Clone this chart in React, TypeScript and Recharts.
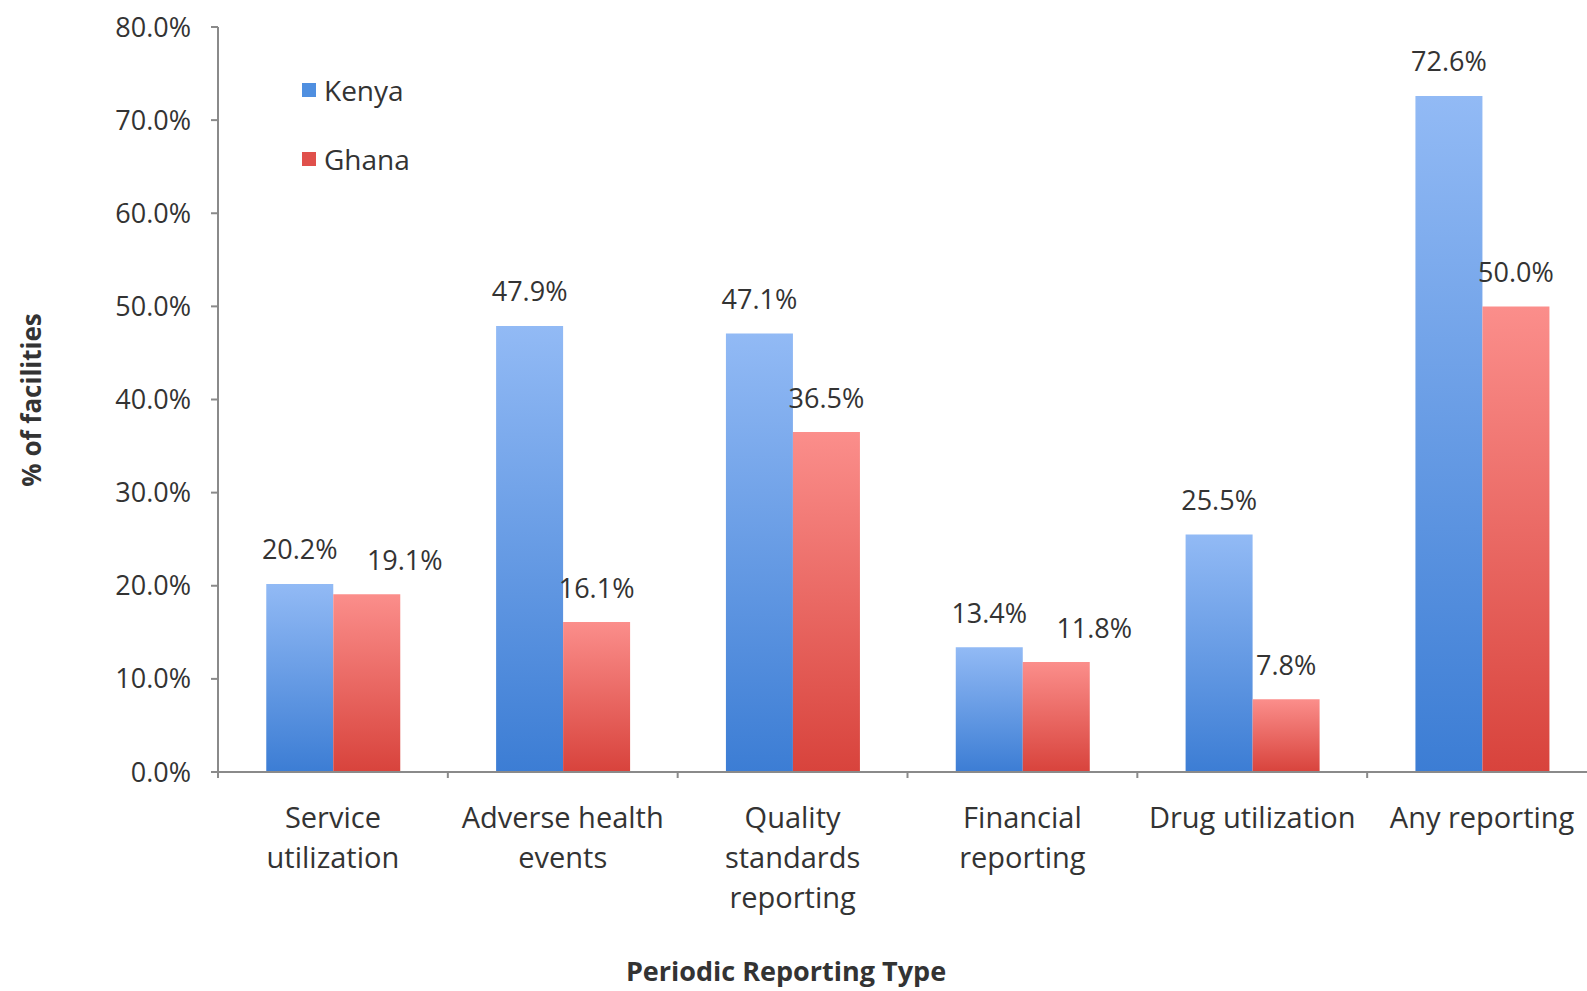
import React from "react";
import { BarChart, Bar, XAxis, YAxis, LabelList } from "recharts";

const categories = [
  "Service\nutilization",
  "Adverse health\nevents",
  "Quality\nstandards\nreporting",
  "Financial\nreporting",
  "Drug utilization",
  "Any reporting",
];
const kenya = [20.2, 47.9, 47.1, 13.4, 25.5, 72.6];
const ghana = [19.1, 16.1, 36.5, 11.8, 7.8, 50.0];
const yTicks = [0, 10, 20, 30, 40, 50, 60, 70, 80];

const data = categories.map((name, i) => ({ name, Kenya: kenya[i], Ghana: ghana[i] }));

const FONT = "'Open Sans', sans-serif";
const TEXT = "#333";
const AXIS = "#8a8a8a";
const PLOT_WIDTH = 1379;

function CategoryTick(props: any) {
  const { x, y, payload, index } = props;
  const band = payload?.offset ? payload.offset * 2 : PLOT_WIDTH / categories.length;
  const lines = String(payload.value).split("\n");
  return (
    <g>
      <line x1={x - band / 2} x2={x - band / 2} y1={y} y2={y + 6} stroke={AXIS} strokeWidth={2} />
      {index === categories.length - 1 && (
        <line x1={x + band / 2} x2={x + band / 2} y1={y} y2={y + 6} stroke={AXIS} strokeWidth={2} />
      )}
      <text x={x} y={y + 46} textAnchor="middle" fontFamily={FONT} fontSize={29} fill={TEXT}>
        {lines.map((l, i) => (
          <tspan key={i} x={x} dy={i === 0 ? "0.35em" : 40}>
            {l}
          </tspan>
        ))}
      </text>
    </g>
  );
}

function valueLabel(series: "Kenya" | "Ghana") {
  return (props: any) => {
    const { x, y, width, value, index } = props;
    let dx = 0;
    // nudge the Ghana label right when it would collide with Kenya's
    if (series === "Ghana" && Math.abs(kenya[index] - ghana[index]) < 4) dx = 38;
    return (
      <text
        x={x + width / 2 + dx}
        y={y - 34}
        dy="0.35em"
        textAnchor="middle"
        fontFamily={FONT}
        fontSize={27}
        fill={TEXT}
      >
        {Number(value).toFixed(1)}%
      </text>
    );
  };
}

function LegendBox() {
  const items = [
    { name: "Kenya", color: "#4f8fe0" },
    { name: "Ghana", color: "#e0504b" },
  ];
  return (
    <div style={{ position: "absolute", left: 302, top: 55, fontFamily: FONT, fontSize: 28, color: TEXT }}>
      {items.map((it) => (
        <div key={it.name} style={{ display: "flex", alignItems: "center", height: 69 }}>
          <span style={{ width: 14, height: 14, background: it.color, marginRight: 8 }} />
          {it.name}
        </div>
      ))}
    </div>
  );
}

export default function App() {
  return (
    <div style={{ position: "fixed", left: 0, top: 0, width: 1587, height: 991, overflow: "hidden", background: "#fff" }}>
      <BarChart
        width={1610}
        height={991}
        data={data}
        margin={{ top: 27, right: 13, left: 0, bottom: 0 }}
        barCategoryGap="21%"
        barGap={0}
      >
        <defs>
          <linearGradient id="kenyaFill" x1="0" y1="0" x2="0" y2="1">
            <stop offset="0%" stopColor="#92baf5" />
            <stop offset="100%" stopColor="#3c7dd4" />
          </linearGradient>
          <linearGradient id="ghanaFill" x1="0" y1="0" x2="0" y2="1">
            <stop offset="0%" stopColor="#fb8e8b" />
            <stop offset="100%" stopColor="#d8433c" />
          </linearGradient>
        </defs>
        <XAxis
          dataKey="name"
          height={219}
          interval={0}
          tickLine={false}
          tickSize={0}
          tickMargin={0}
          axisLine={{ stroke: AXIS, strokeWidth: 2 }}
          tick={<CategoryTick />}
          label={{
            content: () => (
              <text x={786} y={972} textAnchor="middle" dy="0.35em" fontFamily={FONT} fontSize={27} fontWeight="bold" fill={TEXT}>
                Periodic Reporting Type
              </text>
            ),
          }}
        />
        <YAxis
          width={218}
          domain={[0, 80]}
          ticks={yTicks}
          interval={0}
          tickSize={7}
          tickMargin={20}
          tickFormatter={(v: number) => `${v.toFixed(1)}%`}
          tick={{ fontFamily: FONT, fontSize: 27, fill: TEXT }}
          tickLine={{ stroke: AXIS, strokeWidth: 2 }}
          axisLine={{ stroke: AXIS, strokeWidth: 2 }}
          label={{
            content: () => (
              <text
                x={32}
                y={400}
                transform="rotate(-90 32 400)"
                textAnchor="middle"
                dy="0.35em"
                fontFamily={FONT}
                fontSize={26}
                fontWeight="bold"
                fill={TEXT}
              >
                % of facilities
              </text>
            ),
          }}
        />
        <Bar dataKey="Kenya" fill="url(#kenyaFill)" isAnimationActive={false}>
          <LabelList dataKey="Kenya" content={valueLabel("Kenya")} />
        </Bar>
        <Bar dataKey="Ghana" fill="url(#ghanaFill)" isAnimationActive={false}>
          <LabelList dataKey="Ghana" content={valueLabel("Ghana")} />
        </Bar>
      </BarChart>
      <LegendBox />
    </div>
  );
}
